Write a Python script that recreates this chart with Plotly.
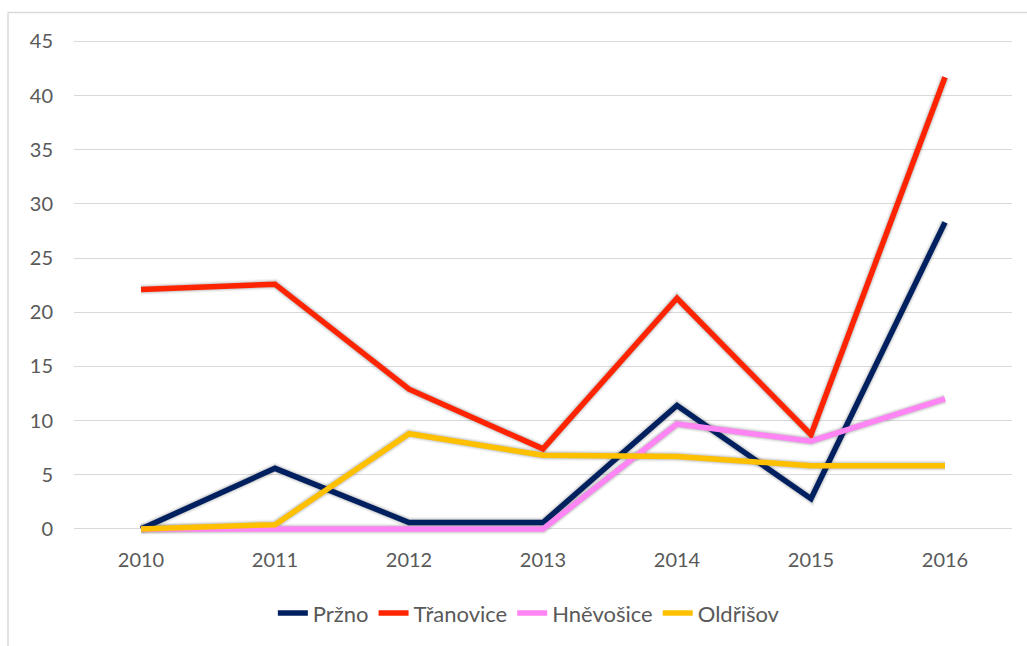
import plotly.graph_objects as go

# Yearly values per municipality
years = ["2010", "2011", "2012", "2013", "2014", "2015", "2016"]
przno = [0.0, 5.6, 0.6, 0.6, 11.4, 2.8, 28.3]
tranovice = [22.1, 22.6, 12.9, 7.4, 21.3, 8.7, 41.7]
hnevosice = [0.0, 0.0, 0.0, 0.0, 9.7, 8.1, 12.0]
oldrisov = [0.0, 0.4, 8.8, 6.8, 6.7, 5.85, 5.85]

series = [
    ("Pržno", przno, "#002060"),
    ("Třanovice", tranovice, "#FF2400"),
    ("Hněvošice", hnevosice, "#FF85F5"),
    ("Oldřišov", oldrisov, "#FFC000"),
]

W, H = 1027, 646
ML, MR, MT, MB = 72, 15, 32.5, 103.5
SH = 2  # shadow offset in px
plot_w = W - ML - MR
plot_h = H - MT - MB
dx = SH / plot_w
dy = SH / plot_h

font_family = "Lato, 'Open Sans', sans-serif"
tick_color = "#595959"
grid_color = "#D9D9D9"
y_range = [-1.2, 45.6]

fig = go.Figure()

# soft drop shadow on the base subplot, shifted down-right
for name, vals, color in series:
    for w, a in [(11, 0.05), (8.5, 0.07), (6.5, 0.10)]:
        fig.add_trace(go.Scatter(
            x=years, y=vals, mode="lines", xaxis="x", yaxis="y",
            line=dict(color=f"rgba(0,0,0,{a})", width=w),
            hoverinfo="skip", showlegend=False,
        ))

# the series themselves, on the overlay subplot that carries the axes
for name, vals, color in series:
    fig.add_trace(go.Scatter(
        x=years, y=vals, mode="lines", name=name, xaxis="x2", yaxis="y2",
        line=dict(color=color, width=5.5, shape="linear"),
    ))

axis_common = dict(showline=False, ticks="", zeroline=False)

fig.update_layout(
    width=W, height=H,
    margin=dict(l=ML, r=MR, t=MT, b=MB),
    paper_bgcolor="white", plot_bgcolor="rgba(0,0,0,0)",
    font=dict(family=font_family, color=tick_color, size=20),
    xaxis=dict(
        type="category", domain=[dx, 1], range=[-0.5, 6.5],
        visible=False, anchor="y",
    ),
    yaxis=dict(
        domain=[0, 1 - dy], range=y_range, visible=False, anchor="x",
    ),
    xaxis2=dict(
        type="category", domain=[0, 1 - dx], range=[-0.5, 6.5],
        overlaying="x", anchor="y2", side="bottom",
        showgrid=False, tickfont=dict(size=20, color=tick_color),
        ticklabelstandoff=4, **axis_common,
    ),
    yaxis2=dict(
        domain=[dy, 1], range=y_range, overlaying="y", anchor="x2",
        side="left", tickmode="array", tickvals=list(range(0, 50, 5)),
        showgrid=True, gridcolor=grid_color, gridwidth=1.3,
        tickfont=dict(size=20, color=tick_color),
        ticklabelstandoff=20, **axis_common,
    ),
    legend=dict(
        orientation="h", x=0.486, xanchor="center", y=-0.14, yanchor="middle",
        font=dict(size=22, color=tick_color), itemwidth=30,
        traceorder="normal", bgcolor="rgba(0,0,0,0)",
    ),
    showlegend=True,
)

# outer frame: top and left edges
bottom_px = H - MB
x_paper = lambda px: (px - ML) / plot_w
y_paper = lambda py: (bottom_px - py) / plot_h
frame = dict(color="#D9D9D9", width=1.5)
fig.add_shape(type="line", xref="paper", yref="paper",
              x0=x_paper(8), x1=x_paper(W + 5), y0=y_paper(12), y1=y_paper(12),
              line=frame, layer="below")
fig.add_shape(type="line", xref="paper", yref="paper",
              x0=x_paper(8), x1=x_paper(8), y0=y_paper(12), y1=y_paper(H + 5),
              line=frame, layer="below")

fig.write_html("out.html")
